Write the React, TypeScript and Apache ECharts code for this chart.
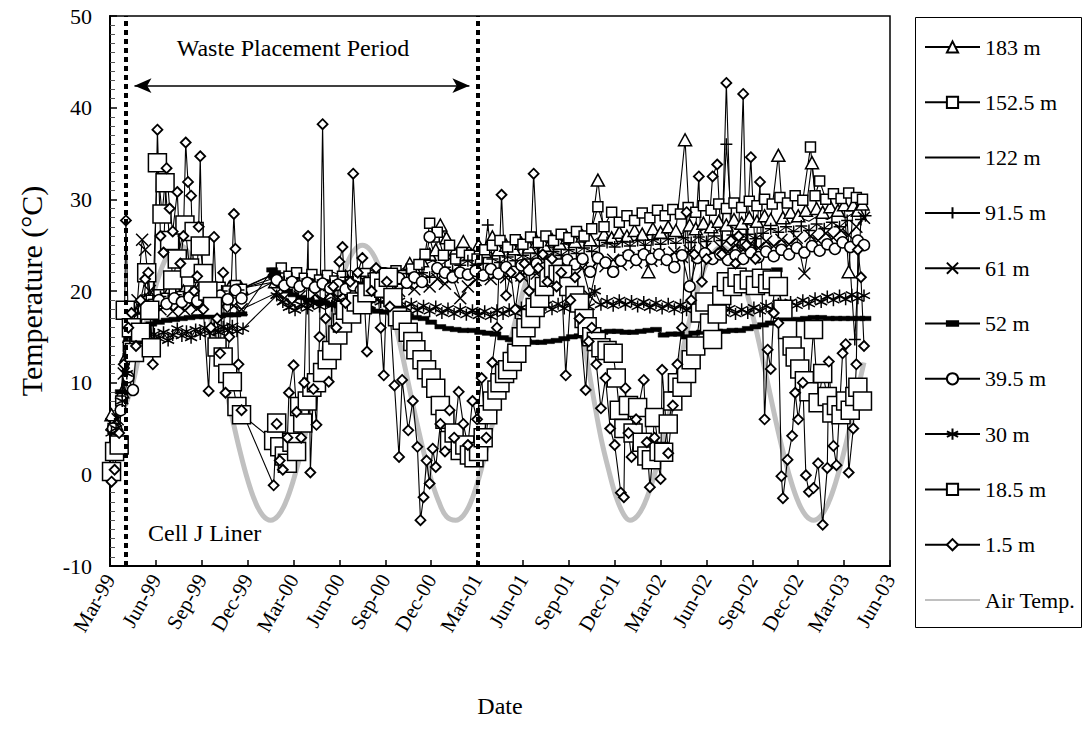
import React, { useEffect, useRef } from 'react';
import * as echarts from 'echarts';

// x values are months since 1 Mar 1999
const tickLabels = ['Mar-99','Jun-99','Sep-99','Dec-99','Mar-00','Jun-00','Sep-00','Dec-00','Mar-01','Jun-01','Sep-01','Dec-01','Mar-02','Jun-02','Sep-02','Dec-02','Mar-03','Jun-03'];

const airTemp: number[][] = [
[1.0,7.5],[1.5,10.0],[2.0,13.9],[2.5,17.5],[3.0,20.6],[3.5,23.0],[4.0,24.5],[4.5,25.0],[5.0,24.5],[5.5,23.0],[6.0,20.6],[6.5,17.5],[7.0,13.9],[7.5,10.0],[8.0,6.1],[8.5,2.5],[9.0,-0.6],[9.5,-3.0],[10.0,-4.5],[10.5,-5.0],[11.0,-4.5],[11.5,-3.0],[12.0,-0.6],[12.5,2.5],[13.0,6.1],[13.5,10.0],[14.0,13.9],[14.5,17.5],[15.0,20.6],[15.5,23.0],[16.0,24.5],[16.5,25.0],[17.0,24.5],[17.5,23.0],[18.0,20.6],[18.5,17.5],[19.0,13.9],[19.5,10.0],[20.0,6.1],[20.5,2.5],[21.0,-0.6],[21.5,-3.0],[22.0,-4.6],[22.6,-5.0],[23.1,-4.5],[23.6,-3.0],[24.1,-0.5],[24.6,2.6],[25.1,6.2],[25.6,10.0],[26.1,13.9],[26.6,17.4],[27.1,20.5],[27.6,23.0],[28.1,24.5],[28.6,25.0],[29.1,24.4],[29.6,22.8],[30.1,20.2],[30.6,17.0],[31.1,13.2],[31.6,8.5],[32.1,4.0],[32.6,0.5],[33.1,-2.5],[33.6,-4.4],[34.0,-5.0],[34.5,-4.5],[35.0,-3.0],[35.5,-0.6],[36.0,2.5],[36.5,6.1],[37.0,10.0],[37.5,13.9],[38.0,17.5],[38.5,20.6],[39.0,23.0],[39.5,24.3],[40.0,24.8],[40.5,24.3],[41.0,23.0],[41.5,20.6],[42.0,17.5],[42.5,13.9],[43.0,10.0],[43.5,6.1],[44.0,2.5],[44.5,-0.6],[45.0,-3.0],[45.5,-4.5],[46.0,-5.0],[46.5,-4.5],[47.0,-3.0],[47.5,-0.6],[48.0,2.5],[48.5,6.1],[49.0,10.0],[49.3,12.2]
];

const m183: number[][] = [
[0.1,6.5],[0.4,5.5],[0.8,9.0],[1.1,13.0],[1.5,16.5],[1.9,18.0],[2.3,19.0],[2.8,19.5],[3.3,19.0],[3.8,19.8],[4.3,19.3],[4.8,20.0],[5.3,19.5],[5.8,20.2],[6.3,19.7],[6.8,20.3],[7.3,19.8],[7.8,20.4],[8.3,19.9],[8.6,20.3],
[10.8,21.0],[11.3,21.8],[11.8,21.2],[12.4,21.0],[12.9,21.4],[13.4,20.8],[13.9,21.3],[14.4,20.7],[14.9,21.2],[15.4,21.6],[15.9,21.0],[16.4,21.7],[16.9,21.2],[17.4,21.8],[17.9,21.3],[18.4,21.9],[18.9,21.4],[19.4,22.0],[19.6,23.0],[19.9,22.5],[20.4,23.3],[20.9,24.0],[21.3,24.5],[21.6,27.2],[22.0,25.8],[22.5,24.2],[23.1,25.4],[23.6,24.0],[24.1,25.0],
[24.5,24.3],[25.0,25.9],[25.4,24.5],[25.9,25.0],[26.4,24.6],[26.9,25.2],[27.4,24.8],[27.9,25.4],[28.4,25.0],[28.9,25.6],[29.4,25.2],[29.9,25.8],[30.4,25.4],[30.9,26.0],[31.4,25.6],[31.9,32.1],[32.3,26.2],[32.8,25.8],[33.3,26.4],[33.8,26.0],[34.3,26.6],[34.8,26.2],[35.2,22.1],[35.5,26.8],[36.0,26.4],
[36.5,27.0],[37.0,26.6],[37.6,36.5],[37.9,27.2],[38.3,26.8],[38.8,27.4],[39.3,27.0],[39.8,27.6],[40.3,27.2],[40.8,27.8],[41.3,27.4],[41.8,28.0],[42.3,27.6],[42.8,28.2],[43.2,27.8],[43.7,34.8],[44.0,28.0],[44.5,28.6],[45.0,28.2],[45.5,28.8],[45.9,34.0],[46.2,29.0],[46.6,28.6],[47.1,29.2],[47.6,28.8],[48.0,29.4],[48.3,22.1],[48.6,29.4],[48.9,28.8],[49.2,29.5]
];

const m152: number[][] = [
[0.2,5.0],[0.7,8.0],[1.2,14.0],[1.7,17.0],[2.2,18.5],[2.7,19.0],[3.2,19.6],[3.7,19.2],[4.2,19.8],[4.7,19.4],[5.2,20.0],[5.7,19.6],[6.2,20.2],[6.7,19.8],[7.2,20.4],[7.7,20.0],[8.2,20.6],[8.6,20.2],
[10.8,21.9],[11.2,22.5],[11.7,21.6],[12.2,22.0],[12.7,21.4],[13.2,21.8],[13.7,21.2],[14.2,21.7],[14.7,21.1],[15.2,21.6],[15.7,21.0],[16.2,21.5],[16.7,21.9],[17.2,21.4],[17.7,22.0],[18.2,21.5],[18.7,22.2],[19.2,21.7],[19.7,22.4],[20.2,22.9],[20.6,24.0],[20.9,27.4],[21.2,25.9],[21.4,26.4],[21.8,23.9],[22.2,25.0],[22.6,23.5],[23.0,24.2],[23.5,23.9],[24.0,23.5],
[24.5,24.5],[25.0,25.0],[25.5,25.5],[26.0,24.8],[26.5,25.6],[27.0,25.1],[27.5,25.9],[28.0,25.3],[28.5,26.0],[29.0,25.5],[29.5,26.2],[30.0,25.8],[30.5,26.5],[31.0,26.0],[31.5,26.8],[31.9,29.2],[32.3,27.0],[32.8,28.6],[33.3,27.5],[33.8,28.2],[34.3,27.7],[34.8,28.5],[35.3,28.0],[35.8,28.8],
[36.3,28.2],[36.8,28.9],[37.3,28.4],[37.8,29.1],[38.3,28.6],[38.8,29.3],[39.3,28.8],[39.8,29.5],[40.3,29.0],[40.8,29.6],[41.3,29.1],[41.8,29.8],[42.3,29.3],[42.8,30.0],[43.3,29.5],[43.8,30.2],[44.3,29.6],[44.8,30.4],[45.3,29.9],[45.8,35.7],[46.1,30.4],[46.4,32.0],[46.8,30.0],[47.3,30.6],[47.8,30.1],[48.3,30.7],[48.8,30.2],[49.2,30.0]
];

const m122: number[][] = [
[0.3,6.0],[0.8,10.0],[1.3,15.0],[1.8,18.5],[2.4,19.3],[3.0,19.8],[3.6,19.5],[4.2,20.1],[4.8,19.7],[5.4,20.3],[6.0,19.9],[6.6,20.4],[7.2,20.0],[7.8,20.6],[8.5,20.2],
[10.9,22.0],[11.5,21.5],[12.1,21.9],[12.7,21.4],[13.3,22.0],[13.9,21.5],[14.5,22.1],[15.1,21.7],[15.7,22.3],[16.3,21.8],[16.9,22.4],[17.5,21.9],[18.1,22.5],[18.7,22.0],[19.3,22.6],[19.9,22.2],[20.5,22.8],[21.1,23.3],[21.7,22.9],[22.3,23.6],[22.9,23.2],[23.5,23.9],
[24.1,23.5],[24.7,24.3],[25.3,23.9],[25.9,24.6],[26.5,24.2],[27.1,24.8],[27.7,24.4],[28.3,25.1],[28.9,24.7],[29.5,25.3],[30.1,24.9],[30.7,25.5],[31.3,25.1],[31.9,25.8],[32.5,25.4],[33.1,26.0],[33.7,25.6],[34.3,26.2],[34.9,25.8],[35.5,26.4],
[36.1,26.0],[36.7,26.6],[37.3,26.2],[37.9,26.8],[38.5,26.4],[39.1,27.0],[39.7,26.6],[40.3,27.2],[40.9,26.8],[41.5,27.4],[42.1,27.0],[42.7,27.6],[43.3,27.2],[43.9,27.8],[44.5,27.4],[45.1,28.0],[45.7,27.6],[46.3,28.2],[46.9,27.8],[47.5,28.4],[48.1,28.0],[48.7,28.6],[49.3,28.2]
];

const m91: number[][] = [
[0.3,5.5],[0.8,9.0],[1.3,14.0],[1.8,17.5],[2.3,18.5],[2.8,19.0],[3.3,19.4],[3.8,19.0],[4.3,19.6],[4.8,19.2],[5.3,19.8],[5.8,19.3],[6.3,19.9],[6.8,19.5],[7.3,20.0],[7.8,19.6],[8.4,20.1],
[10.9,21.5],[11.4,21.0],[11.9,21.4],[12.4,20.9],[12.9,21.3],[13.4,20.8],[13.9,21.2],[14.4,20.7],[14.9,21.1],[15.4,21.5],[15.9,21.0],[16.4,21.6],[16.9,21.1],[17.4,21.7],[17.9,21.2],[18.4,21.8],[18.9,21.3],[19.4,21.9],[19.9,21.4],[20.4,22.0],[20.9,21.5],[21.4,22.1],[21.9,22.6],[22.4,22.2],[22.9,22.8],[23.4,23.3],[23.9,22.8],
[24.4,23.0],[24.7,27.2],[25.0,23.5],[25.5,23.1],[26.0,23.7],[26.5,23.3],[27.0,23.9],[27.5,23.5],[28.0,24.1],[28.5,23.7],[29.0,24.3],[29.5,23.9],[30.0,24.5],[30.5,24.1],[31.0,24.7],[31.5,24.3],[32.0,24.9],[32.5,25.3],[33.0,24.8],[33.5,25.4],[34.0,24.9],[34.5,25.5],[35.0,25.0],[35.5,25.6],[36.0,25.1],
[36.5,25.7],[37.0,25.2],[37.5,25.8],[38.0,25.3],[38.5,25.9],[39.0,25.4],[39.5,26.0],[40.0,25.5],[40.3,36.0],[40.7,26.1],[41.2,25.6],[41.7,26.2],[42.2,25.7],[42.7,26.3],[43.2,26.8],[43.7,26.4],[44.2,27.0],[44.7,26.5],[45.2,27.1],[45.7,26.6],[46.2,27.3],[46.7,26.8],[47.2,27.5],[47.7,27.0],[48.2,27.7],[48.7,14.7],[49.1,27.8],[49.4,28.2]
];

const m61: number[][] = [
[0.1,5.5],[0.5,6.0],[0.9,11.0],[1.2,15.0],[1.5,17.0],[1.8,19.0],[2.1,25.6],[2.3,24.5],[2.6,20.0],[2.9,18.5],[3.3,18.0],[3.7,18.6],[4.1,17.8],[4.5,18.4],[4.9,17.9],[5.3,18.5],[5.7,18.1],[6.1,18.7],[6.5,18.2],[6.9,18.8],[7.3,18.3],[7.7,18.9],[8.1,18.4],[8.6,18.0],
[10.9,19.8],[11.4,19.2],[11.9,18.6],[12.4,19.4],[12.9,18.8],[13.4,19.6],[13.9,19.0],[14.4,19.8],[14.9,19.3],[15.4,20.0],[15.9,19.4],[16.4,20.2],[16.9,19.7],[17.4,20.4],[17.9,19.9],[18.4,20.5],[18.9,20.0],[19.4,20.7],[19.9,20.2],[20.4,21.0],[20.9,20.5],[21.4,21.3],[21.9,20.8],[22.4,21.5],[22.9,19.2],[23.4,20.5],[23.9,21.2],
[24.4,21.8],[24.9,21.3],[25.4,22.0],[25.9,21.5],[26.4,22.2],[26.9,21.7],[27.4,22.4],[27.9,21.9],[28.4,22.6],[28.9,22.1],[29.4,22.8],[29.9,22.3],[30.4,23.0],[30.9,22.5],[31.4,19.4],[31.9,23.2],[32.4,22.7],[32.9,23.4],[33.4,22.9],[33.9,23.6],[34.4,23.1],[34.9,23.8],[35.4,23.3],[35.9,24.0],
[36.4,23.5],[36.9,24.2],[37.4,23.7],[37.9,24.4],[38.4,23.9],[38.9,24.6],[39.4,24.1],[39.9,24.8],[40.4,24.3],[40.9,25.0],[41.4,24.5],[41.9,25.2],[42.4,24.7],[42.9,25.4],[43.4,24.9],[43.9,25.6],[44.4,25.1],[44.9,25.8],[45.4,21.9],[45.8,26.0],[46.3,25.5],[46.8,26.3],[47.3,25.8],[47.8,26.6],[48.3,26.1],[48.8,27.0],[49.3,28.0]
];

const m52: number[][] = [
[0.2,5.0],[0.7,9.0],[1.2,13.0],[1.7,15.0],[2.2,16.0],[2.7,16.4],[3.2,16.6],[3.7,16.8],[4.2,16.9],[4.7,17.0],[5.2,17.1],[5.7,17.2],[6.2,17.2],[6.7,17.3],[7.2,17.3],[7.7,17.4],[8.2,17.4],[8.6,17.5],
[10.6,22.3],[10.7,21.6],[10.8,22.0],[10.9,21.3],[11.2,20.6],[11.6,20.0],[12.0,19.6],[12.5,19.3],[13.0,19.0],[13.5,18.8],[14.0,18.7],[14.5,18.5],[15.0,18.4],[15.5,18.3],[16.0,18.2],[16.5,18.1],[17.0,18.0],[17.5,17.8],[18.0,17.7],[18.5,17.6],[19.0,17.4],[19.5,17.3],[20.0,17.1],[20.5,17.0],[21.0,16.6],[21.6,16.1],[22.1,15.9],[22.6,15.8],[23.1,15.7],[23.7,15.7],
[24.2,15.5],[24.7,15.4],[25.2,15.3],[25.7,14.9],[26.2,14.7],[26.7,14.6],[27.2,14.5],[27.7,14.4],[28.2,14.4],[28.7,14.5],[29.2,14.6],[29.7,14.8],[30.2,15.0],[30.7,15.1],[31.2,15.3],[31.7,15.4],[32.2,15.5],[32.7,15.6],[33.2,15.6],[33.7,15.5],[34.2,15.5],[34.7,15.6],[35.2,15.7],[35.7,15.8],
[36.2,15.2],[36.7,15.3],[37.2,15.3],[37.7,15.0],[38.2,15.4],[38.7,15.5],[39.2,15.5],[39.7,15.6],[40.2,15.6],[40.7,15.7],[41.2,15.7],[41.7,15.9],[42.2,16.1],[42.7,16.3],[43.2,16.5],[43.6,22.3],[44.0,16.7],[44.5,16.8],[45.0,16.9],[45.5,17.0],[46.0,17.1],[46.5,17.1],[47.0,17.0],[47.5,17.0],[48.0,17.0],[48.5,17.0],[49.0,17.0],[49.4,17.0]
];

const m39: number[][] = [
[0.2,5.0],[0.7,7.0],[1.2,10.6],[1.5,9.2],[1.8,15.0],[2.2,18.0],[2.7,18.5],[3.2,19.0],[3.7,18.6],[4.2,19.2],[4.7,18.8],[5.2,19.3],[5.7,18.9],[6.2,19.4],[6.7,19.0],[7.2,19.5],[7.7,19.1],[8.2,20.1],[8.6,19.2],
[10.9,21.2],[11.4,20.6],[11.9,21.0],[12.4,20.5],[12.9,20.9],[13.4,20.4],[13.9,20.8],[14.4,20.3],[14.9,20.7],[15.4,20.2],[15.9,20.6],[16.4,20.1],[16.9,20.5],[17.4,20.9],[17.9,21.3],[18.4,20.8],[18.9,21.4],[19.4,20.9],[19.9,21.5],[20.4,21.0],[20.9,25.9],[21.4,22.5],[21.9,22.0],[22.4,21.5],[22.9,22.0],[23.4,21.8],[23.9,22.2],
[24.4,21.7],[24.9,22.4],[25.4,21.9],[25.9,22.6],[26.4,22.1],[26.9,22.8],[27.4,22.3],[27.9,23.0],[28.4,22.5],[28.9,23.2],[29.4,22.7],[29.9,23.4],[30.4,22.9],[30.9,23.5],[31.4,22.1],[31.9,23.6],[32.4,23.1],[32.9,22.1],[33.4,23.3],[33.9,23.9],[34.4,23.4],[34.9,24.0],[35.4,23.5],[35.9,24.0],
[36.4,23.4],[36.9,22.6],[37.4,23.9],[37.9,20.5],[38.4,23.6],[38.9,24.1],[39.4,23.5],[39.9,24.0],[40.4,23.4],[40.9,23.9],[41.4,23.5],[41.9,24.2],[42.4,23.7],[42.9,24.3],[43.4,23.8],[43.9,24.5],[44.4,24.0],[44.9,24.7],[45.4,24.2],[45.9,24.9],[46.4,24.4],[46.9,25.1],[47.4,24.6],[47.9,25.3],[48.4,24.8],[48.9,25.5],[49.3,25.0]
];

const m30: number[][] = [
[0.1,4.5],[0.4,5.0],[0.8,8.0],[1.1,11.0],[1.4,13.0],[1.7,14.0],[2.0,14.5],[2.3,15.0],[2.6,14.2],[2.9,15.3],[3.2,14.8],[3.5,15.5],[3.8,14.6],[4.1,15.2],[4.4,15.9],[4.7,15.1],[5.0,15.6],[5.3,14.9],[5.6,15.8],[5.9,15.3],[6.2,16.0],[6.5,15.4],[6.8,15.9],[7.1,15.5],[7.4,16.1],[7.7,15.7],[8.0,16.2],[8.3,15.6],[8.7,15.9],
[10.9,19.5],[11.3,18.8],[11.7,18.2],[12.1,17.9],[12.5,18.5],[12.9,18.1],[13.3,18.7],[13.7,18.3],[14.1,19.0],[14.5,18.4],[14.9,18.9],[15.3,18.6],[15.7,19.2],[16.1,18.7],[16.5,19.1],[16.9,18.5],[17.3,19.3],[17.7,18.8],[18.1,19.0],[18.5,18.4],[18.9,18.9],[19.3,18.2],[19.7,18.6],[20.1,17.9],[20.5,18.4],[20.9,17.8],[21.3,18.3],[21.7,17.6],[22.1,18.1],[22.5,17.5],[22.9,18.0],[23.3,17.4],[23.7,17.9],
[24.1,17.3],[24.5,17.8],[24.9,17.2],[25.3,17.9],[25.7,17.5],[26.1,18.0],[26.5,17.6],[26.9,18.2],[27.3,17.7],[27.7,18.4],[28.1,17.9],[28.5,18.5],[28.9,18.0],[29.3,18.6],[29.7,18.1],[30.1,18.7],[30.5,18.2],[30.9,18.8],[31.3,18.3],[31.7,20.0],[32.1,18.5],[32.5,18.9],[32.9,18.4],[33.3,19.0],[33.7,18.5],[34.1,18.9],[34.5,18.3],[34.9,18.8],[35.3,18.2],[35.7,18.7],
[36.1,18.1],[36.5,18.6],[36.9,18.0],[37.3,18.5],[37.7,17.9],[38.1,18.4],[38.5,17.8],[38.9,18.3],[39.3,17.7],[39.7,18.2],[40.1,17.6],[40.5,18.1],[40.9,17.5],[41.3,18.0],[41.7,17.6],[42.1,18.2],[42.5,17.8],[42.9,18.4],[43.3,18.0],[43.7,18.6],[44.1,18.2],[44.5,18.8],[44.9,18.4],[45.3,19.0],[45.7,18.6],[46.1,19.2],[46.5,18.8],[46.9,19.4],[47.3,19.0],[47.7,19.5],[48.1,19.1],[48.5,19.6],[48.9,19.2],[49.3,19.5]
];

const m18: number[][] = [
[0.1,0.3],[0.3,2.5],[0.6,3.2],[1.0,17.9],[1.4,16.0],[1.6,13.3],[2.0,15.5],[2.4,22.0],[2.6,17.9],[2.7,13.8],[3.1,34.0],[3.4,28.4],[3.6,31.8],[3.9,25.5],[4.1,21.2],[4.4,23.5],[4.9,27.2],[5.2,22.5],[5.5,26.5],[5.9,24.9],[6.1,21.9],[6.4,20.0],[6.7,18.3],[7.0,13.9],[7.4,12.8],[7.7,11.0],[8.0,10.1],[8.3,7.4],[8.6,6.5],
[10.7,3.7],[10.9,5.6],[11.1,3.0],[11.4,2.0],[11.6,1.2],[11.9,3.5],[12.2,2.5],[12.4,7.4],[12.6,5.6],[12.9,8.0],[13.2,9.5],[13.5,10.0],[13.9,11.1],[14.2,12.5],[14.5,13.5],[14.9,15.2],[15.2,16.5],[15.4,17.9],[15.8,17.5],[16.1,18.8],[16.5,18.5],[16.8,19.8],[17.2,20.5],[17.6,21.0],[17.9,20.3],[18.2,21.5],[18.5,19.3],[18.8,17.2],[19.1,16.8],[19.5,15.5],[19.8,14.5],[20.0,13.6],[20.4,12.5],[20.7,11.4],[21.0,10.5],[21.3,9.4],[21.6,7.5],[21.9,6.0],[22.2,3.7],[22.5,4.5],[22.9,2.6],[23.2,3.2],[23.5,2.1],[23.8,1.8],[24.1,2.5],
[24.4,4.0],[24.7,6.5],[25.0,8.0],[25.3,9.2],[25.5,10.0],[25.8,11.0],[26.0,11.4],[26.3,12.3],[26.6,13.2],[26.9,15.0],[27.2,16.0],[27.5,17.0],[27.8,18.2],[28.1,19.2],[28.4,20.5],[28.7,21.5],[29.0,22.5],[29.3,21.8],[29.6,21.8],[30.0,20.5],[30.4,19.5],[30.7,18.7],[31.0,17.0],[31.2,16.1],[31.5,15.0],[31.8,14.5],[32.1,13.8],[32.5,13.5],[32.9,13.2],[33.1,10.5],[33.3,7.0],[33.6,5.0],[33.9,7.5],[34.2,4.5],[34.5,7.3],[34.8,3.5],[35.1,2.0],[35.4,1.6],[35.6,6.2],[35.9,2.5],[36.2,2.4],
[36.5,5.5],[36.8,8.0],[37.1,10.0],[37.4,9.5],[37.7,11.0],[38.0,12.5],[38.3,14.0],[38.6,17.6],[38.9,18.8],[39.2,16.5],[39.4,14.7],[39.7,17.5],[40.0,19.5],[40.3,21.0],[40.7,20.5],[41.0,21.5],[41.4,20.8],[41.8,21.2],[42.2,20.6],[42.6,21.4],[43.0,20.8],[43.3,21.2],[43.7,20.5],[44.0,18.0],[44.3,15.8],[44.6,14.0],[44.8,12.8],[45.1,11.5],[45.4,10.2],[45.7,9.0],[46.0,15.8],[46.3,7.8],[46.6,11.0],[46.9,8.5],[47.2,6.7],[47.5,7.5],[47.8,6.5],[48.1,8.0],[48.4,7.0],[48.7,8.5],[48.9,9.5],[49.2,8.0]
];

const m1_5: number[][] = [
[0.1,-0.8],[0.3,0.5],[0.6,4.5],[0.9,12.0],[1.04,27.7],[1.2,16.0],[1.4,17.6],[1.7,14.0],[2.0,19.0],[2.3,21.3],[2.5,22.0],[2.8,12.0],[3.1,37.6],[3.3,26.0],[3.5,24.2],[3.7,33.4],[3.9,29.0],[4.1,26.5],[4.4,30.8],[4.6,23.0],[4.8,26.0],[4.95,36.2],[5.1,31.9],[5.3,30.4],[5.5,20.0],[5.7,21.6],[5.8,27.0],[5.9,34.7],[6.1,18.0],[6.45,9.1],[6.6,16.0],[6.8,25.9],[7.0,17.0],[7.2,13.2],[7.4,22.0],[7.55,8.9],[7.8,15.0],[8.1,28.4],[8.2,24.6],[8.4,12.0],[8.6,7.0],
[10.7,-1.2],[10.9,5.5],[11.1,1.5],[11.3,0.5],[11.6,4.0],[11.7,8.9],[12.0,11.9],[12.2,6.8],[12.5,4.0],[12.7,10.0],[12.95,26.0],[13.1,0.2],[13.3,9.3],[13.5,5.4],[13.7,15.0],[13.9,38.2],[14.1,17.0],[14.3,10.1],[14.6,20.5],[14.8,16.0],[15.0,23.2],[15.2,24.8],[15.4,18.7],[15.7,21.0],[15.9,32.8],[16.2,22.0],[16.5,23.6],[16.8,13.4],[17.1,20.0],[17.4,22.5],[17.7,16.0],[17.9,10.8],[18.1,21.0],[18.3,18.3],[18.6,9.7],[18.9,1.9],[19.1,10.3],[19.5,4.8],[19.8,8.0],[20.1,3.0],[20.3,-5.0],[20.5,-2.5],[20.7,1.5],[20.9,-1.0],[21.1,2.8],[21.3,0.8],[21.6,5.5],[21.9,2.5],[22.2,7.0],[22.5,4.0],[22.8,9.0],[23.1,5.5],[23.4,3.2],[23.7,8.0],[24.0,6.0],
[24.3,10.5],[24.6,4.0],[25.0,12.2],[25.3,16.0],[25.6,30.5],[25.9,19.5],[26.2,22.0],[26.5,18.0],[26.8,21.5],[27.1,23.0],[27.4,20.0],[27.7,32.8],[28.0,22.5],[28.3,24.0],[28.6,21.0],[28.9,23.5],[29.2,20.5],[29.5,22.0],[29.8,10.8],[30.1,19.0],[30.4,21.5],[30.7,17.0],[31.1,9.2],[31.3,14.5],[31.5,16.0],[31.8,12.0],[32.1,7.2],[32.4,10.5],[32.7,5.0],[33.0,3.2],[33.4,-2.0],[33.6,-2.5],[33.7,9.4],[33.9,4.5],[34.1,1.9],[34.4,6.0],[34.9,10.3],[35.1,3.5],[35.3,-1.4],[35.6,4.0],[36.0,-0.5],[36.1,11.4],[36.5,2.3],
[36.8,7.5],[37.1,12.0],[37.4,16.0],[37.7,28.6],[38.0,19.0],[38.2,24.0],[38.5,32.5],[38.7,21.0],[39.0,23.5],[39.4,32.5],[39.7,33.8],[40.0,24.0],[40.3,42.7],[40.6,25.5],[40.9,23.0],[41.1,26.0],[41.4,41.5],[41.6,25.0],[41.9,34.6],[42.2,23.5],[42.5,31.9],[42.8,6.0],[43.0,13.6],[43.2,11.5],[43.4,17.6],[43.7,16.5],[43.9,-0.2],[44.0,-2.6],[44.3,1.6],[44.6,4.2],[44.8,8.9],[45.0,6.0],[45.3,10.0],[45.5,-0.1],[45.7,-1.9],[46.0,-1.5],[46.3,1.2],[46.6,-5.5],[46.9,0.7],[47.0,12.3],[47.3,3.1],[47.5,1.0],[47.9,13.2],[48.1,14.2],[48.3,0.2],[48.6,5.0],[48.8,12.0],[48.9,24.5],[49.1,21.5],[49.3,14.0]
];

// annotation positions (data units)
const placementStart = 1.05;
const placementEnd = 24.05;
const arrowLevel = 42.4;

const FONT = "'Liberation Serif', 'Times New Roman', serif";
const PLUS = 'path://M0,5L10,5M5,0L5,10';
const CROSS = 'path://M0,0L10,10M10,0L0,10';
const STAR = 'path://M5,0L5,10M0.67,2.5L9.33,7.5M0.67,7.5L9.33,2.5';
const DASH = 'path://M0,0M0,3L10,3L10,7L0,7ZM10,10';

function mk(name: string, data: number[][], symbol: string, symbolSize: any, fill: string, bw: number): any {
  return {
    name, type: 'line', data, symbol, symbolSize, showSymbol: true,
    lineStyle: { color: '#000', width: 1.1 },
    itemStyle: { color: fill, borderColor: '#000', borderWidth: bw },
    emphasis: { disabled: true },
    silent: true,
  };
}

export default function App() {
  const ref = useRef<HTMLDivElement>(null);
  useEffect(() => {
    const chart = echarts.init(ref.current!, null, { renderer: 'svg' });
    const dotted = { type: [5, 4], width: 4, color: '#000' };
    const s1_5 = mk('1.5 m', m1_5, 'diamond', 10, '#fff', 1.8);
    s1_5.markLine = {
      silent: true,
      symbol: ['none', 'none'],
      label: { show: false },
      data: [
        { xAxis: placementStart, lineStyle: dotted },
        { xAxis: placementEnd, lineStyle: dotted },
        [
          { coord: [placementStart + 0.55, arrowLevel], symbol: 'arrow', symbolSize: [11, 17] },
          { coord: [placementEnd - 0.55, arrowLevel], symbol: 'arrow', symbolSize: [11, 17], lineStyle: { type: 'solid', width: 1.5, color: '#000' } },
        ],
      ],
      lineStyle: { type: 'solid', width: 1.5, color: '#000' },
    };
    const option: any = {
      animation: false,
      backgroundColor: '#fff',
      grid: { left: 110, top: 16, width: 780, height: 550, show: true, borderColor: '#000', borderWidth: 1.5, backgroundColor: 'transparent' },
      xAxis: {
        type: 'value', min: 0, max: 51, interval: 3,
        name: 'Date', nameLocation: 'middle', nameGap: 128,
        nameTextStyle: { fontFamily: FONT, fontSize: 24, color: '#000' },
        axisLine: { show: true, onZero: false, lineStyle: { color: '#000', width: 2 } },
        axisTick: { show: true, inside: true, length: 6, lineStyle: { color: '#000', width: 1.5 } },
        axisLabel: { rotate: 60, margin: 10, fontFamily: FONT, fontSize: 21, color: '#000', formatter: (v: number) => tickLabels[Math.round(v / 3)] || '' },
        splitLine: { show: false },
      },
      yAxis: {
        type: 'value', min: -10, max: 50, interval: 10,
        name: 'Temperature (°C)', nameLocation: 'middle', nameGap: 64, nameRotate: 90,
        nameTextStyle: { fontFamily: FONT, fontSize: 30, color: '#000' },
        axisLine: { show: true, onZero: false, lineStyle: { color: '#000', width: 2 } },
        axisTick: { show: true, inside: true, length: 7, lineStyle: { color: '#000', width: 1.5 } },
        minorTick: { show: true, splitNumber: 10, length: 5, lineStyle: { color: '#555', width: 1 } },
        axisLabel: { margin: 18, fontFamily: FONT, fontSize: 22, color: '#000' },
        splitLine: { show: false },
      },
      legend: {
        orient: 'vertical', left: 924, top: 36, padding: 0,
        itemWidth: 55, itemHeight: 14, itemGap: 33.3,
        selectedMode: false,
        textStyle: { fontFamily: FONT, fontSize: 22, color: '#000', lineHeight: 22 },
        data: ['183 m', '152.5 m', '122 m', '91.5 m', '61 m', '52 m', '39.5 m', '30 m', '18.5 m', '1.5 m', 'Air Temp.'],
      },
      graphic: [
        { type: 'rect', shape: { x: 915.5, y: 17.5, width: 166, height: 610 }, style: { fill: 'none', stroke: '#000', lineWidth: 1 }, silent: true },
        { type: 'text', x: 293, y: 48, style: { text: 'Waste Placement Period', font: `24px ${FONT}`, fill: '#000', align: 'center', verticalAlign: 'middle' }, silent: true },
        { type: 'text', x: 148, y: 533, style: { text: 'Cell J Liner', font: `24px ${FONT}`, fill: '#000', align: 'left', verticalAlign: 'middle' }, silent: true },
      ],
      series: [
        {
          name: 'Air Temp.', type: 'line', data: airTemp, smooth: 0.4, symbol: 'none', showSymbol: false,
          lineStyle: { color: '#c0c0c0', width: 5 },
          itemStyle: { color: 'rgba(0,0,0,0)', borderWidth: 0 },
          emphasis: { disabled: true }, silent: true,
        },
        mk('183 m', m183, 'triangle', [13, 12], '#fff', 1.5),
        mk('152.5 m', m152, 'rect', 10, '#fff', 1.5),
        { ...mk('122 m', m122, 'circle', 0, 'rgba(0,0,0,0)', 0), showSymbol: false },
        mk('91.5 m', m91, PLUS, 12, '#000', 1.5),
        mk('61 m', m61, CROSS, 12, '#000', 1.5),
        mk('52 m', m52, DASH, 11, '#000', 0.5),
        mk('39.5 m', m39, 'circle', 11, '#fff', 1.5),
        mk('30 m', m30, STAR, 12, '#000', 1.5),
        mk('18.5 m', m18, 'rect', 18, '#fff', 1.5),
        s1_5,
      ],
    };
    chart.setOption(option);
    return () => chart.dispose();
  }, []);
  return <div ref={ref} style={{ position: 'absolute', left: 0, top: 0, width: 1086, height: 742, background: '#fff' }} />;
}
